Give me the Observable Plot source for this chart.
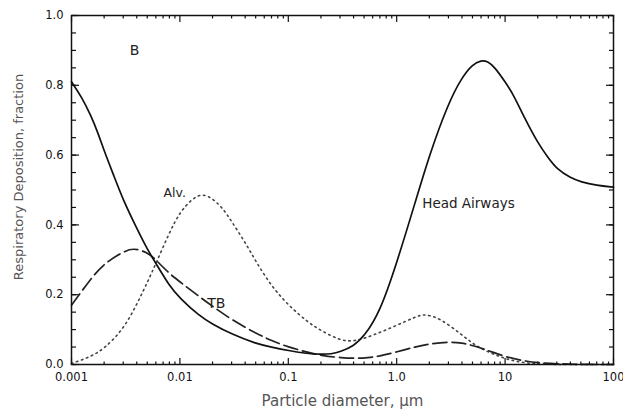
<!DOCTYPE html>
<html><head><meta charset="utf-8">
<script src="https://cdn.jsdelivr.net/npm/d3@7"></script>
<script src="https://cdn.jsdelivr.net/npm/@observablehq/plot@0.6"></script>
<style>body{margin:0;background:#fff;}</style>
</head><body><div id="chart"></div>
<script>
// Head airways (solid)
const headX = [0.001,0.00125,0.0015,0.00175,0.002,0.0025,0.003,0.004,0.005,0.006,0.008,0.01,0.015,0.02,0.03,0.05,0.07,0.1,0.15,0.2,0.25,0.3,0.4,0.5,0.7,1.0,1.5,2,3,4,5,6,7,8,10,12,15,20,25,30,40,50,70,100];
const headY = [0.81,0.765,0.715,0.665,0.612,0.535,0.471,0.39,0.33,0.29,0.225,0.19,0.14,0.115,0.087,0.06,0.05,0.04,0.031,0.029,0.03,0.036,0.053,0.08,0.15,0.29,0.47,0.60,0.75,0.823,0.86,0.872,0.868,0.852,0.81,0.772,0.708,0.635,0.592,0.56,0.535,0.523,0.513,0.508];
// Tracheobronchial (dashed)
const tbX = [0.001,0.0015,0.002,0.003,0.0037,0.005,0.006,0.008,0.01,0.015,0.02,0.03,0.05,0.07,0.1,0.15,0.2,0.3,0.5,0.7,1.0,1.5,2,3,4,5,7,10,15,20,30,50,100];
const tbY = [0.17,0.245,0.29,0.323,0.334,0.322,0.30,0.26,0.237,0.195,0.167,0.128,0.09,0.068,0.05,0.035,0.026,0.019,0.017,0.024,0.036,0.051,0.059,0.065,0.062,0.055,0.04,0.022,0.01,0.005,0.002,0,0];
// Alveolar (dotted)
const alvX = [0.001,0.0015,0.002,0.003,0.004,0.005,0.006,0.008,0.01,0.013,0.016,0.02,0.025,0.03,0.04,0.05,0.07,0.1,0.15,0.2,0.3,0.4,0.6,1.0,1.5,1.8,2.5,4,5.5,9,13,20,30,100];
const alvY = [0.003,0.022,0.045,0.10,0.172,0.235,0.289,0.378,0.437,0.475,0.49,0.476,0.447,0.41,0.35,0.296,0.224,0.17,0.122,0.097,0.069,0.065,0.083,0.112,0.137,0.145,0.133,0.085,0.05,0.021,0.007,0.001,0,0];

// Ticks
const xMajor = [0.001,0.01,0.1,1,10,100];
const xTickLabels = ["0.001","0.01","0.1","1.0","10","100"];
const xMinor = [-3,-2,-1,0,1].flatMap(e => [2,3,4,5,6,7,8,9].map(m => +(m * Math.pow(10, e)).toPrecision(6)));
const yMajor = [0,0.2,0.4,0.6,0.8,1.0];
const yMinor = d3.range(0, 21).map(i => +(i * 0.05).toFixed(2));

// Annotations (data coordinates)
const annotText = ["B","Alv.","TB","Head Airways"];
const annotX = [0.00345,0.00706,0.0179,1.72];
const annotY = [0.90,0.49,0.174,0.46];
const annotSize = [14,12.5,14,13.5];

const toRows = (xs, ys) => xs.map((x, i) => ({x, y: ys[i]}));
const head = toRows(headX, headY), tb = toRows(tbX, tbY), alv = toRows(alvX, alvY);
const annots = annotText.map((t, i) => ({t, x: annotX[i], y: annotY[i], s: annotSize[i]}));
const labelMap = new Map(xMajor.map((d, i) => [d, xTickLabels[i]]));

const chart = Plot.plot({
  width: 623, height: 409,
  marginLeft: 71, marginRight: 10, marginTop: 15, marginBottom: 45,
  style: {fontFamily: "DejaVu Sans", fontSize: "11.5px", color: "#111", background: "#fff"},
  x: {type: "log", domain: [0.001, 100]},
  y: {domain: [0, 1]},
  marks: [
    // inward minor/major ticks on all four sides
    Plot.axisX(xMinor, {anchor: "top", frameAnchor: "bottom", tickSize: 3.5, fill: "none", label: null, strokeWidth: 1.2}),
    Plot.axisX(xMajor, {anchor: "top", frameAnchor: "bottom", tickSize: 7, fill: "none", label: null, strokeWidth: 1.2}),
    Plot.axisX(xMinor, {anchor: "bottom", frameAnchor: "top", tickSize: 3.5, fill: "none", label: null, strokeWidth: 1.2}),
    Plot.axisX(xMajor, {anchor: "bottom", frameAnchor: "top", tickSize: 7, fill: "none", label: null, strokeWidth: 1.2}),
    Plot.axisY(yMinor, {anchor: "right", frameAnchor: "left", tickSize: 4, fill: "none", label: null, strokeWidth: 1.2}),
    Plot.axisY(yMajor, {anchor: "right", frameAnchor: "left", tickSize: 7, fill: "none", label: null, strokeWidth: 1.2}),
    Plot.axisY(yMinor, {anchor: "left", frameAnchor: "right", tickSize: 4, fill: "none", label: null, strokeWidth: 1.2}),
    Plot.axisY(yMajor, {anchor: "left", frameAnchor: "right", tickSize: 7, fill: "none", label: null, strokeWidth: 1.2}),
    // tick labels
    Plot.axisX(xMajor, {anchor: "bottom", tickSize: 0, tickPadding: 8, tickFormat: d => labelMap.get(d), label: null, fill: "#111"}),
    Plot.axisY(yMajor, {anchor: "left", tickSize: 0, tickPadding: 8, tickFormat: d3.format(".1f"), label: null, fill: "#111"}),
    // axis titles
    Plot.text(["Particle diameter, \u03bcm"], {frameAnchor: "bottom", text: d => d, dy: 41, fontSize: 15, fill: "#555"}),
    Plot.text(["Respiratory Deposition, fraction"], {frameAnchor: "left", textAnchor: "middle", text: d => d, rotate: -90, dx: -53, dy: -13, fontSize: 13, fill: "#555"}),
    // curves
    Plot.line(alv, {x: "x", y: "y", curve: "basis", stroke: "#444", strokeWidth: 1.6, strokeDasharray: "1.5,3.8"}),
    Plot.line(tb, {x: "x", y: "y", curve: "basis", stroke: "#222", strokeWidth: 1.7, strokeDasharray: "14,5"}),
    Plot.line(head, {x: "x", y: "y", curve: "basis", stroke: "#111", strokeWidth: 1.7}),
    // annotations
    Plot.text(annots, {x: "x", y: "y", text: "t", fontSize: "s", textAnchor: "start", fill: "#222"}),
    Plot.frame({stroke: "#111", strokeWidth: 1.5})
  ]
});
document.getElementById("chart").appendChild(chart);
</script>
</body></html>
